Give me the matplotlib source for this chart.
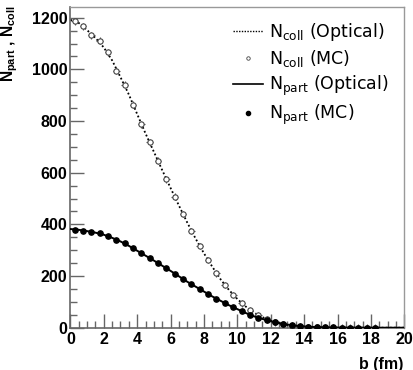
import numpy as np
import matplotlib
matplotlib.use('Agg')
import matplotlib.pyplot as plt
from matplotlib.lines import Line2D
from matplotlib.ticker import MultipleLocator
from matplotlib.font_manager import FontProperties

# bold math in the axis title uses the same Helvetica-like face as the ticks
plt.rcParams['mathtext.fontset'] = 'custom'
plt.rcParams['mathtext.bf'] = 'Liberation Sans:bold'
plt.rcParams['mathtext.rm'] = 'Liberation Sans'

# impact parameter grids (fm)
B_MC = [0.25, 0.75, 1.25, 1.75, 2.25, 2.75, 3.25, 3.75, 4.25, 4.75,
        5.25, 5.75, 6.25, 6.75, 7.25, 7.75, 8.25, 8.75, 9.25, 9.75,
        10.25, 10.75, 11.25, 11.75, 12.25, 12.75, 13.25, 13.75, 14.25, 14.75,
        15.25, 15.75, 16.25, 16.75, 17.25, 17.75, 18.25]
B_OPT = [0, 0.5, 1, 1.5, 2, 2.5, 3, 3.5, 4, 4.5,
         5, 5.5, 6, 6.5, 7, 7.5, 8, 8.5, 9, 9.5,
         10, 10.5, 11, 11.5, 12, 12.5, 13, 13.5, 14, 14.5,
         15, 15.5, 16, 16.5, 17, 17.5, 18, 18.5, 19, 19.5, 20]

# Ncoll
NCOLL_MC = [1186, 1167, 1132, 1111, 1066, 995, 941, 864, 788, 717,
            646, 575, 507, 440, 374, 316, 262, 210, 165, 127,
            95, 69, 49, 33, 21, 13, 7.5, 4, 2, 1,
            0.6, 0.3, 0.2, 0.1, 0.05, 0, 0]
NCOLL_OPT = [1192, 1180, 1152, 1122, 1085, 1035, 970, 903, 827, 752,
             681, 610, 541, 473, 407, 345, 288, 236, 187, 146,
             111, 82, 58, 41, 27, 17, 10, 6, 3, 1.5,
             0.8, 0.4, 0.2, 0.1, 0, 0, 0, 0, 0, 0, 0]

# Npart
NPART_MC = [380, 376, 371, 365, 355, 341, 326, 307, 288, 270,
            250, 230, 209, 189, 169, 150, 130, 112, 95, 79,
            64, 50, 39, 30, 22, 15, 10, 7, 4, 3,
            2, 1, 0.7, 0.4, 0.2, 0.1, 0.1]
NPART_OPT = [382, 379, 374, 368, 360, 348, 334, 317, 298, 279,
             260, 240, 220, 199, 178, 159, 140, 121, 104, 87,
             72, 57, 44, 34, 25, 18, 12, 8, 5, 3,
             2, 1, 0.6, 0.3, 0.2, 0.1, 0, 0, 0, 0, 0]

NCOLL_XERR = 0.2
NCOLL_YERR = 13

TICK_FONT = dict(family='Liberation Sans', weight='bold', size=11.5)
AXIS_GREY = '#666666'

fig = plt.figure(figsize=(4.14, 3.70), dpi=100)
ax = fig.add_axes([0.170, 0.1143, 0.8066, 0.8657])

# curves
ax.plot(B_OPT, NCOLL_OPT, color='black', lw=1.3, ls=(0, (1, 1.3)), zorder=2)
ax.errorbar(B_MC, NCOLL_MC, xerr=NCOLL_XERR, yerr=NCOLL_YERR, fmt='o',
            ms=3.8, mfc='white', mec='#444444', mew=0.8,
            ecolor='#555555', elinewidth=0.8, capsize=0, zorder=3)
ax.plot(B_OPT, NPART_OPT, color='black', lw=1.4, zorder=4)
ax.plot(B_MC, NPART_MC, 'o', color='black', ms=3.8, zorder=5)

ax.set_xlim(0, 20)
ax.set_ylim(0, 1240)

ax.xaxis.set_major_locator(MultipleLocator(2))
ax.xaxis.set_minor_locator(MultipleLocator(0.5))
ax.yaxis.set_major_locator(MultipleLocator(200))
ax.yaxis.set_minor_locator(MultipleLocator(50))
ax.tick_params(which='both', direction='in', color=AXIS_GREY, width=1,
               top=False, right=False)
ax.tick_params(which='major', length=10)
ax.tick_params(which='minor', length=5)
ax.tick_params(axis='x', pad=3)
ax.tick_params(axis='y', pad=2)
for lab in ax.get_xticklabels() + ax.get_yticklabels():
    lab.set_fontproperties(FontProperties(**TICK_FONT))

for side in ['left', 'bottom']:
    ax.spines[side].set_color(AXIS_GREY)
    ax.spines[side].set_linewidth(1.2)
for side in ['top', 'right']:
    ax.spines[side].set_color('#999999')
    ax.spines[side].set_linewidth(1.0)

# axis titles sit ROOT-style at the ends of the axes
ax.set_xlabel('b (fm)', loc='right', fontdict=TICK_FONT)
ax.xaxis.set_label_coords(0.996, -0.09)
ax.set_ylabel(r'$\mathbf{N_{part}}$ , $\mathbf{N_{coll}}$',
              loc='top', fontdict=dict(TICK_FONT, size=11.2))
ax.yaxis.set_label_coords(-0.152, 1.006)

# legend
handles = [
    Line2D([], [], color='black', lw=1.0, ls=(0, (1, 1))),
    Line2D([], [], ls='none', marker='o', ms=2.5, mfc='white', mec='#444444', mew=0.6),
    Line2D([], [], color='black', lw=1.2),
    Line2D([], [], ls='none', marker='o', ms=3, color='black'),
]
labels = [r'N$_\mathregular{coll}$ (Optical)', r'N$_\mathregular{coll}$ (MC)',
          r'N$_\mathregular{part}$ (Optical)', r'N$_\mathregular{part}$ (MC)']
ax.legend(handles, labels, loc='upper right', bbox_to_anchor=(0.985, 0.99),
          frameon=False, handlelength=1.75, handletextpad=0.35,
          labelspacing=0.28, borderaxespad=0.2,
          prop=dict(family='DejaVu Sans', size=12.5))

fig.savefig('out.png', dpi=100)
